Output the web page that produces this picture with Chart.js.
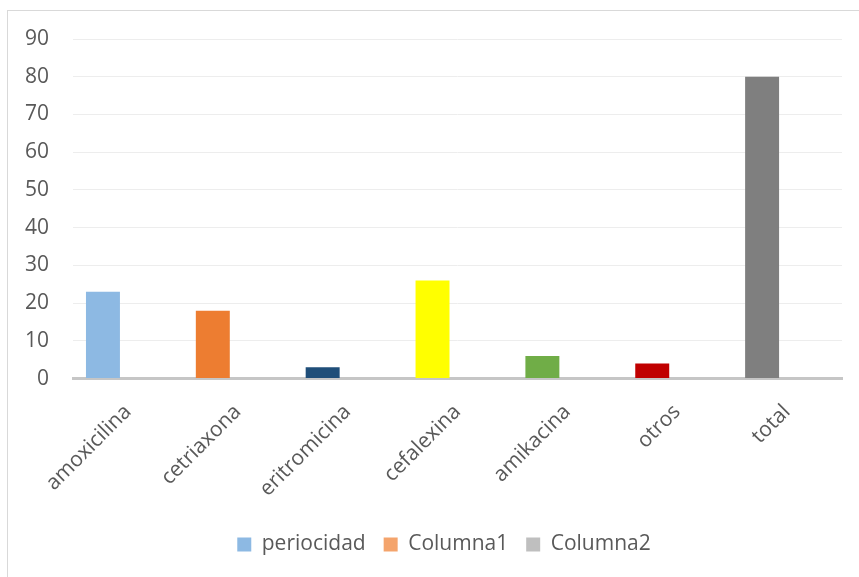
<!DOCTYPE html>
<html>
<head>
<meta charset="utf-8">
<script src="https://cdn.jsdelivr.net/npm/chart.js@4"></script>
<style>
  html, body { margin: 0; padding: 0; background: #fff; overflow: hidden; width: 859px; height: 577px; }
  #frame { position: absolute; left: 7px; top: 10px; width: 872px; height: 590px;
           border-left: 1px solid #D9D9D9; border-top: 1px solid #D9D9D9; }
  #chart { display: block; }
</style>
</head>
<body>
<div id="frame"><canvas id="chart" width="872" height="590"></canvas></div>
<script>
// Antibiotic usage counts
const categories = ['amoxicilina', 'cetriaxona', 'eritromicina', 'cefalexina', 'amikacina', 'otros', 'total'];
const periocidad = [23, 18, 3, 26, 6, 4, 80];
const columna1 = [null, null, null, null, null, null, null];
const columna2 = [null, null, null, null, null, null, null];
const yTicks = [0, 10, 20, 30, 40, 50, 60, 70, 80, 90];

const barColors = ['#8DB9E3', '#ED7D31', '#1F4E79', '#FFFF00', '#70AD47', '#C00000', '#7F7F7F'];
const textColor = '#595959';
const font = { family: '"Open Sans", sans-serif', size: 21 };

// Centre the legend on the whole frame rather than between the paddings
const legendShift = {
  id: 'legendShift',
  afterLayout(chart) {
    if (chart.legend) {
      chart.legend.left += 19;
      chart.legend.right += 19;
    }
  }
};

new Chart(document.getElementById('chart'), {
  type: 'bar',
  data: {
    labels: categories,
    datasets: [
      {
        label: 'periocidad',
        data: periocidad,
        backgroundColor: (ctx) => ctx.type === 'data' ? barColors[ctx.dataIndex] : '#8DB9E3'
      },
      { label: 'Columna1', data: columna1, backgroundColor: '#F4A46C' },
      { label: 'Columna2', data: columna2, backgroundColor: '#BFBFBF' }
    ]
  },
  plugins: [legendShift],
  options: {
    responsive: false,
    animation: false,
    categoryPercentage: 0.682,
    barPercentage: 1.36,
    layout: { padding: { left: 0, right: 38, top: 0, bottom: 36 } },
    plugins: {
      tooltip: { enabled: false },
      legend: {
        position: 'bottom',
        labels: { color: textColor, font: font, boxWidth: 14, boxHeight: 14, padding: 18 }
      }
    },
    scales: {
      x: {
        grid: { display: false, drawTicks: false },
        border: { display: true, color: '#C6C6C6', width: 3 },
        ticks: { color: textColor, font: font, minRotation: 45, maxRotation: 45, autoSkip: false, padding: 21 },
        afterFit: (scale) => { scale.height = 137.4; }
      },
      y: {
        min: 0,
        max: 90,
        afterBuildTicks: (scale) => { scale.ticks = yTicks.map(v => ({ value: v })); },
        grid: {
          drawTicks: false,
          color: (ctx) => ctx.tick && ctx.tick.value === 0 ? 'rgba(0,0,0,0)' : '#EDEDED',
          lineWidth: 1
        },
        border: { display: false },
        ticks: { color: textColor, font: font, padding: 24 },
        afterFit: (scale) => { scale.width = 65; scale.paddingTop = 28; }
      }
    }
  }
});
</script>
</body>
</html>
